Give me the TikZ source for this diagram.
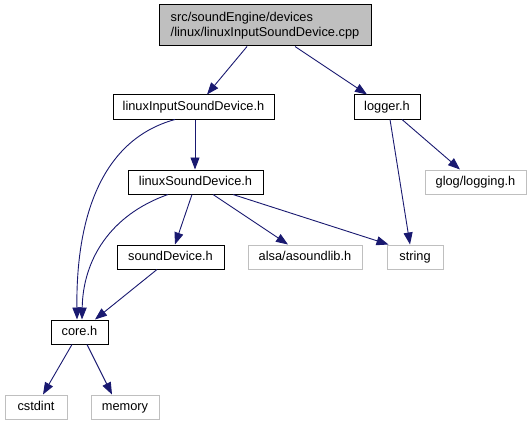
\documentclass[tikz,border=0pt]{standalone}
\usepackage{fontspec}
\setmainfont{Liberation Sans}
\usetikzlibrary{arrows.meta}
\definecolor{extgray}{HTML}{BFBFBF}
\definecolor{topfill}{HTML}{BFBFBF}
\definecolor{edgeblue}{HTML}{191970}
\begin{document}
\begin{tikzpicture}[x=1pt,y=-1pt,
  every node/.style={font=\fontsize{12.8}{15}\selectfont, inner sep=0pt, line width=1pt},
  filebox/.style={draw=black, minimum height=24pt, text height=9.5pt, text depth=2.5pt},
  extbox/.style={draw=extgray, minimum height=24pt, text height=9.5pt, text depth=2.5pt},
  edge/.style={draw=edgeblue, line width=0.9pt, -{Triangle[length=12pt,width=9pt]}}]
\useasboundingbox (0,0) rectangle (532,425);
\node[draw=black, fill=topfill, minimum width=212pt, minimum height=41pt, align=left] (top) at (265,25.5)
  {src/soundEngine/devices\\/linux/linuxInputSoundDevice.cpp};
\node[filebox, minimum width=161pt] (lisd) at (193.5,107) {linuxInputSoundDevice.h};
\node[filebox, minimum width=66pt] (logger) at (387,107) {logger.h};
\node[filebox, minimum width=135pt] (lsd) at (195.5,182) {linuxSoundDevice.h};
\node[extbox, minimum width=101pt] (glog) at (475.5,182) {glog/logging.h};
\node[filebox, minimum width=107pt] (sd) at (170.5,257) {soundDevice.h};
\node[extbox, minimum width=114pt] (alsa) at (305,257) {alsa/asoundlib.h};
\node[extbox, minimum width=56pt] (string) at (415,257) {string};
\node[filebox, minimum width=57pt] (core) at (79.5,332) {core.h};
\node[extbox, minimum width=62pt] (cstdint) at (36,407) {cstdint};
\node[extbox, minimum width=68pt] (memory) at (125,407) {memory};

\draw[edge] ([xshift=-18pt]top.south) -- ([xshift=13.5pt]lisd.north);
\draw[edge] ([xshift=30pt]top.south) -- ([xshift=-20pt]logger.north);
\draw[edge] ([xshift=1.5pt]lisd.south) -- ([xshift=-0.5pt]lsd.north);
\draw[edge] ([xshift=-18.5pt]lisd.south) .. controls (100,140) and (76,220) .. ([xshift=-2.5pt]core.north);
\draw[edge] ([xshift=-27.5pt]lsd.south) .. controls (110,215) and (83,260) .. ([xshift=2.5pt]core.north);
\draw[edge] ([xshift=-3.5pt]lsd.south) -- ([xshift=4.5pt]sd.north);
\draw[edge] ([xshift=17.5pt]lsd.south) -- ([xshift=-17pt]alsa.north);
\draw[edge] ([xshift=37.5pt]lsd.south) -- ([xshift=2pt]string.north west);
\draw[edge] ([xshift=3pt]logger.south) -- ([xshift=-5pt]string.north);
\draw[edge] ([xshift=15pt]logger.south) -- ([xshift=-15.5pt]glog.north);
\draw[edge] ([xshift=-13.5pt]sd.south) -- ([xshift=15.5pt]core.north);
\draw[edge] ([xshift=-7.5pt]core.south) -- ([xshift=7pt]cstdint.north);
\draw[edge] ([xshift=7.5pt]core.south) -- ([xshift=-13pt]memory.north);
\end{tikzpicture}
\end{document}
